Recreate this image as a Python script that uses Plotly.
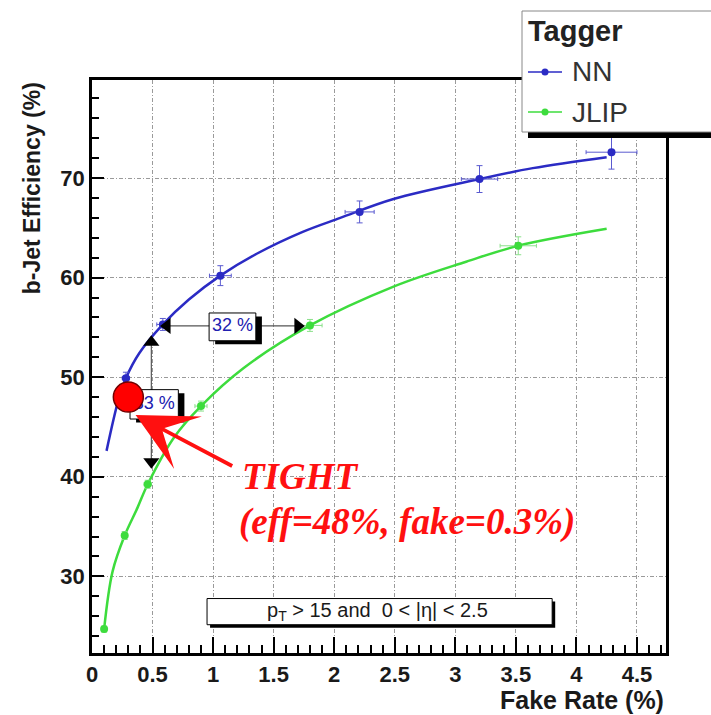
import plotly.graph_objects as go

# ---- NN tagger: operating points and fitted efficiency curve ----
nn_fake = [0.28, 0.585, 1.06, 2.21, 3.20, 4.29]
nn_eff = [49.9, 55.3, 60.2, 66.6, 69.9, 72.6]
nn_fake_err = [0.03, 0.05, 0.09, 0.12, 0.15, 0.21]
nn_eff_err = [0.6, 0.6, 1.0, 1.1, 1.35, 1.7]
nn_fit_fake = [0.12, 0.22, 0.28, 0.39, 0.585, 0.80, 1.06, 1.36, 1.74, 2.05, 2.49, 3.20, 3.64, 4.25]
nn_fit_eff = [42.6, 47.8, 49.9, 52.4, 55.3, 57.8, 60.2, 62.4, 64.6, 66.0, 67.9, 69.9, 71.0, 72.1]

# ---- JLIP tagger: operating points and fitted efficiency curve ----
jlip_fake = [0.10, 0.27, 0.46, 0.90, 1.80, 3.52]
jlip_eff = [24.7, 34.1, 39.25, 47.1, 55.2, 63.2]
jlip_fake_err = [0.01, 0.02, 0.03, 0.05, 0.10, 0.15]
jlip_eff_err = [0.3, 0.4, 0.4, 0.5, 0.6, 0.9]
jlip_fit_fake = [0.10, 0.17, 0.27, 0.376, 0.46, 0.68, 0.90, 1.25, 1.80, 2.49, 3.09, 3.52, 4.25]
jlip_fit_eff = [24.7, 30.5, 34.1, 36.9, 39.25, 44.0, 47.1, 50.9, 55.2, 59.1, 61.6, 63.2, 64.9]

# ---- comparison arrows between the two taggers ----
vert_arrow_fake = [0.49, 0.49]
vert_arrow_eff = [41.5, 53.5]
horiz_arrow_fake = [0.62, 1.70]
horiz_arrow_eff = [55.15, 55.15]
gain_labels = ["32 %", "33 %"]

# ---- chosen working point ----
tight_fake = 0.3
tight_eff = 48

NN_BLUE = "#2b2bc4"
JLIP_GREEN = "#3ddc3d"

fig = go.Figure()

# fitted curves
fig.add_trace(go.Scatter(x=nn_fit_fake, y=nn_fit_eff, mode="lines",
                         line=dict(color=NN_BLUE, width=2.5, shape="spline", smoothing=1.0),
                         hoverinfo="skip", showlegend=False))
fig.add_trace(go.Scatter(x=jlip_fit_fake, y=jlip_fit_eff, mode="lines",
                         line=dict(color=JLIP_GREEN, width=2.5, shape="spline", smoothing=1.0),
                         hoverinfo="skip", showlegend=False))

# measured points with errors
fig.add_trace(go.Scatter(x=nn_fake, y=nn_eff, mode="markers", name="NN",
                         marker=dict(color=NN_BLUE, size=8),
                         error_x=dict(array=nn_fake_err, color="#5a5ad0", thickness=1, width=2),
                         error_y=dict(array=nn_eff_err, color="#5a5ad0", thickness=1, width=3),
                         showlegend=False))
fig.add_trace(go.Scatter(x=jlip_fake, y=jlip_eff, mode="markers", name="JLIP",
                         marker=dict(color=JLIP_GREEN, size=8),
                         error_x=dict(array=jlip_fake_err, color="#8be08b", thickness=1, width=2),
                         error_y=dict(array=jlip_eff_err, color="#8be08b", thickness=1, width=3),
                         showlegend=False))

# arrow heads
fig.add_trace(go.Scatter(x=vert_arrow_fake, y=vert_arrow_eff, mode="markers",
                         marker=dict(symbol=["triangle-down", "triangle-up"], size=14, color="black"),
                         hoverinfo="skip", showlegend=False))
fig.add_trace(go.Scatter(x=horiz_arrow_fake, y=horiz_arrow_eff, mode="markers",
                         marker=dict(symbol=["triangle-left", "triangle-right"], size=14, color="black"),
                         hoverinfo="skip", showlegend=False))

shapes = []
# arrow shafts
shapes.append(dict(type="line", layer="between", x0=vert_arrow_fake[0], x1=vert_arrow_fake[1],
                   y0=vert_arrow_eff[0], y1=vert_arrow_eff[1], line=dict(color="#555", width=1.2)))
shapes.append(dict(type="line", layer="between", x0=horiz_arrow_fake[0], x1=horiz_arrow_fake[1],
                   y0=horiz_arrow_eff[0], y1=horiz_arrow_eff[1], line=dict(color="#555", width=1.2)))


def boxed(x0, x1, y0, y1, dx, dy):
    # shadow first, then the white box on top
    shapes.append(dict(type="rect", layer="between", x0=x0 + dx, x1=x1 + dx, y0=y0 - dy, y1=y1 - dy,
                       fillcolor="black", line=dict(width=0)))
    shapes.append(dict(type="rect", layer="between", x0=x0, x1=x1, y0=y0, y1=y1,
                       fillcolor="white", line=dict(color="black", width=1)))


boxed(0.967, 1.353, 53.66, 56.45, 0.05, 0.35)
boxed(0.314, 0.713, 45.8, 48.75, 0.05, 0.35)
boxed(0.95, 3.80, 25.14, 27.77, 0.025, 0.3)

# gain labels inside the boxes
fig.add_trace(go.Scatter(x=[1.16, 0.515], y=[55.05, 47.25], mode="text", text=gain_labels,
                         textfont=dict(family="Liberation Sans, Arial", size=18, color="#2020b0"),
                         hoverinfo="skip", showlegend=False))

# working point marker
fig.add_trace(go.Scatter(x=[tight_fake], y=[tight_eff], mode="markers",
                         marker=dict(color="#ff0000", size=30, line=dict(color="#700000", width=1.5)),
                         hoverinfo="skip", showlegend=False))

annotations = []
# arrow from the working-point label
annotations.append(dict(x=0.36, y=46.2, ax=1.17, ay=41.0, xref="x", yref="y", axref="x", ayref="y",
                        text="", showarrow=True, arrowhead=3, arrowsize=2.6, arrowwidth=3.8, arrowcolor="#ff1010"))
annotations.append(dict(x=1.22, y=40.0, xref="x", yref="y", xanchor="left", yanchor="middle", showarrow=False,
                        text="TIGHT",
                        font=dict(family="Liberation Serif, Times New Roman", size=37, color="#ff1010",
                                  weight="bold", style="italic")))
annotations.append(dict(x=1.20, y=35.5, xref="x", yref="y", xanchor="left", yanchor="middle", showarrow=False,
                        text=f"(eff={tight_eff}%, fake={tight_fake}%)",
                        font=dict(family="Liberation Serif, Times New Roman", size=37, color="#ff1010",
                                  weight="bold", style="italic")))
# kinematic selection
annotations.append(dict(x=2.36, y=26.45, xref="x", yref="y", showarrow=False,
                        text="p<sub>T</sub> > 15 and  0 < |η| < 2.5",
                        font=dict(family="Liberation Sans, Arial", size=20, color="#1a1a1a")))

# axis titles
annotations.append(dict(x=1.0, y=-0.082, xref="paper", yref="paper", xanchor="right", yanchor="middle",
                        showarrow=False, text="Fake Rate (%)",
                        font=dict(family="Liberation Sans, Arial", size=25, color="#1a1a1a", weight="bold")))
annotations.append(dict(x=-0.104, y=1.0, xref="paper", yref="paper", xanchor="center", yanchor="top",
                        showarrow=False, text="b-Jet Efficiency (%)", textangle=-90,
                        font=dict(family="Liberation Sans, Arial", size=23, color="#1a1a1a", weight="bold")))

# legend drawn by hand in paper coordinates
PX_L, PX_W, PX_T, PX_H = 92, 574, 80, 573


def px(xp):
    return (xp - PX_L) / PX_W


def py(yp):
    return (PX_T + PX_H - yp) / PX_H


shapes.append(dict(type="rect", xref="paper", yref="paper", x0=px(528), x1=px(760), y0=py(138), y1=py(17),
                   fillcolor="black", line=dict(width=0), layer="above"))
shapes.append(dict(type="rect", xref="paper", yref="paper", x0=px(522), x1=px(760), y0=py(132), y1=py(11),
                   fillcolor="white", line=dict(color="#888", width=1), layer="above"))
for ypix, col in [(72, NN_BLUE), (112, JLIP_GREEN)]:
    shapes.append(dict(type="line", xref="paper", yref="paper", x0=px(528), x1=px(562), y0=py(ypix), y1=py(ypix),
                       line=dict(color=col, width=1.5), layer="above"))
    shapes.append(dict(type="circle", xref="paper", yref="paper", xsizemode="pixel", ysizemode="pixel",
                       xanchor=px(545), yanchor=py(ypix), x0=-3.5, x1=3.5, y0=-3.5, y1=3.5,
                       fillcolor=col, line=dict(color=col, width=0), layer="above"))
annotations.append(dict(x=px(526), y=py(31), xref="paper", yref="paper", xanchor="left", yanchor="middle",
                        showarrow=False, text="Tagger",
                        font=dict(family="Liberation Sans, Arial", size=29, color="#222", weight="bold")))
for ypix, name in [(72, "NN"), (112, "JLIP")]:
    annotations.append(dict(x=px(570), y=py(ypix), xref="paper", yref="paper", xanchor="left", yanchor="middle",
                            showarrow=False, text=name,
                            font=dict(family="Liberation Sans, Arial", size=28, color="#333")))

axis_font = dict(family="Liberation Sans, Arial", size=22, color="#1a1a1a", weight="bold")
grid_common = dict(showgrid=True, gridcolor="#9a9a9a", gridwidth=1, griddash="4px,2px,1px,2px",
                   showline=True, linecolor="black", linewidth=2.5, mirror=True, zeroline=False,
                   ticks="inside", tickcolor="black", tickfont=axis_font)

fig.update_layout(
    width=711, height=715,
    margin=dict(l=92, r=45, t=80, b=62),
    paper_bgcolor="white", plot_bgcolor="white",
    showlegend=False,
    xaxis=dict(range=[0, 4.74], tick0=0, dtick=0.5, ticklen=16, tickwidth=1.5,
               minor=dict(dtick=0.1, ticks="inside", ticklen=8, tickcolor="black", showgrid=False),
               **grid_common),
    yaxis=dict(range=[22.3, 79.85], tick0=0, dtick=10, ticklen=12, tickwidth=1.5,
               minor=dict(dtick=2, ticks="inside", ticklen=7, tickcolor="black", showgrid=False),
               **grid_common),
    shapes=shapes,
    annotations=annotations,
)

fig.write_html("out.html")
